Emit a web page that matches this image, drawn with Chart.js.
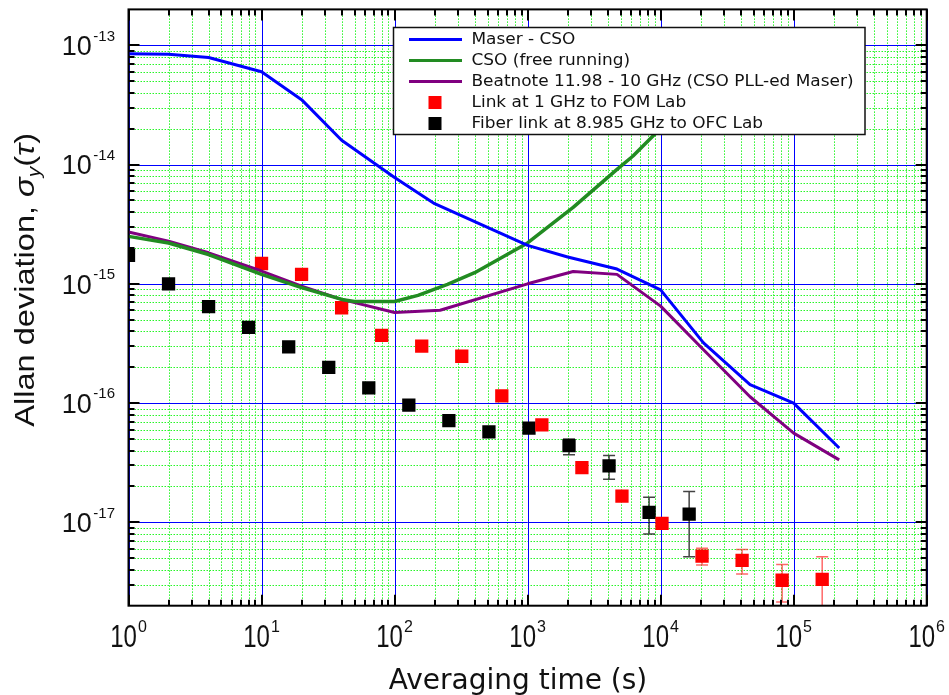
<!DOCTYPE html>
<html><head><meta charset="utf-8">
<script src="https://cdn.jsdelivr.net/npm/chart.js@4"></script>
<style>html,body{margin:0;padding:0;background:#fff;}canvas{display:block;}</style>
</head><body>
<canvas id="c" width="949" height="695"></canvas>
<script>
// ---- data ----
const seriesLabels = ['Maser - CSO','CSO (free running)','Beatnote 11.98 - 10 GHz (CSO PLL-ed Maser)','Link at 1 GHz to FOM Lab','Fiber link at 8.985 GHz to OFC Lab'];
const xTickExponents = [0,1,2,3,4,5,6];
const yTickExponents = [-17,-16,-15,-14,-13];
const minorMultipliers = [2,3,4,5,6,7,8,9];
const xTitle = 'Averaging time (s)';

const maserTau = [1,2,4,10,20,40,100,200,1000,2000,4700,10000,21000,47000,100000,220000];
const maserDev = [8.5e-14,8.4e-14,7.9e-14,6.0e-14,3.5e-14,1.6e-14,7.8e-15,4.7e-15,2.1e-15,1.68e-15,1.33e-15,8.9e-16,3.2e-16,1.43e-16,1.0e-16,4.2e-17];

const csoTau = [1,2,4,10,20,40,50,87,100,150,250,400,1000,2200,4700,6200,9300,15000];
const csoDev = [2.5e-15,2.2e-15,1.76e-15,1.2e-15,9.3e-16,7.4e-16,7.1e-16,7.1e-16,7.1e-16,8.0e-16,9.9e-16,1.24e-15,2.2e-15,4.37e-15,9.1e-15,1.18e-14,1.86e-14,3.0e-14];

const beatTau = [1,2,4,10,20,40,100,220,1000,2200,4700,10000,21000,47000,100000,220000];
const beatDev = [2.72e-15,2.28e-15,1.82e-15,1.28e-15,9.55e-16,7.4e-16,5.75e-16,6.0e-16,1.0e-15,1.27e-15,1.2e-15,6.5e-16,2.8e-16,1.13e-16,5.6e-17,3.34e-17];

const fomTau = [10,20,40,80,160,320,640,1280,2560,5120,10240,20480,40960,81920,163840];
const fomDev = [1.48e-15,1.2e-15,6.3e-16,3.7e-16,3.0e-16,2.47e-16,1.15e-16,6.57e-17,2.88e-17,1.66e-17,9.8e-18,5.2e-18,4.8e-18,3.27e-18,3.32e-18];
const fomErrLow  = [null,null,null,null,null,null,null,null,null,null,null,4.38e-18,3.68e-18,2.15e-18,1.0e-18];
const fomErrHigh = [null,null,null,null,null,null,null,null,null,null,null,6.05e-18,5.93e-18,4.44e-18,5.14e-18];

const ofcTau = [1,2,4,8,16,32,64,128,256,512,1024,2048,4096,8192,16384];
const ofcDev = [1.73e-15,1.0e-15,6.44e-16,4.32e-16,2.96e-16,1.99e-16,1.34e-16,9.6e-17,7.14e-17,5.74e-17,6.16e-17,4.4e-17,2.97e-17,1.21e-17,1.17e-17];
const ofcErrLow  = [null,null,null,null,null,null,null,null,null,null,null,3.68e-17,2.3e-17,7.97e-18,5.14e-18];
const ofcErrHigh = [null,null,null,null,null,null,null,null,null,null,null,5.01e-17,3.63e-17,1.62e-17,1.81e-17];

// ---- helpers ----
const pts = (xs, ys) => xs.map((v, i) => ({x: v, y: ys[i]}));
const SANS = '"Liberation Sans", Arial, sans-serif';
const DEJA = '"DejaVu Sans", Verdana, sans-serif';

const gridPlugin = {
  id: 'customGrid',
  beforeDatasetsDraw(chart) {
    const {ctx, chartArea: a, scales: {x, y}} = chart;
    ctx.save();
    ctx.lineWidth = 1;
    ctx.strokeStyle = 'rgb(40,245,40)';
    ctx.setLineDash([1.5, 1.5]);
    ctx.beginPath();
    for (let k = 0; k < xTickExponents.length - 1; k++) {
      minorMultipliers.forEach(m => {
        const px = Math.round(x.getPixelForValue(m * Math.pow(10, xTickExponents[k]))) + 0.5;
        ctx.moveTo(px, a.top); ctx.lineTo(px, a.bottom);
      });
    }
    for (let e = yTickExponents[0] - 1; e <= yTickExponents[yTickExponents.length - 1]; e++) {
      minorMultipliers.forEach(m => {
        const v = m * Math.pow(10, e);
        if (v <= y.min * 1.0001 || v >= y.max * 0.9999) return;
        const py = Math.round(y.getPixelForValue(v)) + 0.5;
        ctx.moveTo(a.left, py); ctx.lineTo(a.right, py);
      });
    }
    ctx.stroke();
    ctx.setLineDash([]);
    ctx.strokeStyle = '#0000ff';
    ctx.beginPath();
    xTickExponents.forEach(e => {
      const px = Math.round(x.getPixelForValue(Math.pow(10, e))) + 0.5;
      ctx.moveTo(px, a.top); ctx.lineTo(px, a.bottom);
    });
    yTickExponents.forEach(e => {
      const py = Math.round(y.getPixelForValue(Math.pow(10, e))) + 0.5;
      ctx.moveTo(a.left, py); ctx.lineTo(a.right, py);
    });
    ctx.stroke();
    ctx.restore();
  }
};

const errorBarPlugin = {
  id: 'errorBars',
  beforeDatasetsDraw(chart) {
    const {ctx, chartArea: a, scales: {x, y}} = chart;
    ctx.save();
    ctx.beginPath(); ctx.rect(a.left, a.top, a.right - a.left, a.bottom - a.top); ctx.clip();
    const sets = [
      [fomTau, fomErrLow, fomErrHigh, 'rgba(255,40,40,0.7)'],
      [ofcTau, ofcErrLow, ofcErrHigh, 'rgba(20,20,20,0.8)']
    ];
    sets.forEach(([tau, lo, hi, col]) => {
      ctx.strokeStyle = col; ctx.lineWidth = 1.5;
      tau.forEach((t, i) => {
        if (lo[i] == null || hi[i] == null) return;
        const px = x.getPixelForValue(t);
        const p1 = y.getPixelForValue(lo[i]);
        const p2 = y.getPixelForValue(hi[i]);
        ctx.beginPath();
        ctx.moveTo(px, p1); ctx.lineTo(px, p2);
        ctx.moveTo(px - 6, p1); ctx.lineTo(px + 6, p1);
        ctx.moveTo(px - 6, p2); ctx.lineTo(px + 6, p2);
        ctx.stroke();
      });
    });
    ctx.restore();
  }
};

const framePlugin = {
  id: 'frame',
  afterDatasetsDraw(chart) {
    const {ctx, chartArea: a, scales: {x, y}} = chart;
    ctx.save();
    ctx.strokeStyle = '#000'; ctx.lineWidth = 2;
    ctx.strokeRect(a.left, a.top, a.right - a.left, a.bottom - a.top);
    ctx.beginPath();
    const tickX = (v, len) => {
      const px = Math.round(x.getPixelForValue(v));
      ctx.moveTo(px, a.bottom); ctx.lineTo(px, a.bottom - len);
      ctx.moveTo(px, a.top); ctx.lineTo(px, a.top + len);
    };
    const tickY = (v, len) => {
      const py = Math.round(y.getPixelForValue(v));
      ctx.moveTo(a.left, py); ctx.lineTo(a.left + len, py);
      ctx.moveTo(a.right, py); ctx.lineTo(a.right - len, py);
    };
    xTickExponents.forEach(e => tickX(Math.pow(10, e), 11));
    for (let k = 0; k < xTickExponents.length - 1; k++)
      minorMultipliers.forEach(m => tickX(m * Math.pow(10, xTickExponents[k]), 6));
    yTickExponents.forEach(e => tickY(Math.pow(10, e), 11));
    for (let e = yTickExponents[0] - 1; e <= yTickExponents[yTickExponents.length - 1]; e++)
      minorMultipliers.forEach(m => {
        const v = m * Math.pow(10, e);
        if (v <= y.min * 1.0001 || v >= y.max * 0.9999) return;
        tickY(v, 6);
      });
    ctx.stroke();
    ctx.restore();
  }
};

const legendPlugin = {
  id: 'boxLegend',
  afterDatasetsDraw(chart) {
    const {ctx} = chart;
    const L = 393.5, T = 27.5, R = 865, B = 134.5;
    ctx.save();
    ctx.fillStyle = '#fff';
    ctx.fillRect(L, T, R - L, B - T);
    ctx.strokeStyle = '#111'; ctx.lineWidth = 1.5;
    ctx.strokeRect(L, T, R - L, B - T);
    ctx.font = '15px ' + DEJA;
    let longest = 0;
    chart.data.datasets.forEach(ds => { longest = Math.max(longest, ctx.measureText(ds.label).width); });
    const sx = 382 / longest;
    chart.data.datasets.forEach((ds, i) => {
      const ry = 39.5 + i * 21;
      if (ds.showLine) {
        ctx.strokeStyle = ds.borderColor; ctx.lineWidth = 3;
        ctx.beginPath(); ctx.moveTo(409, ry); ctx.lineTo(462, ry); ctx.stroke();
      } else {
        ctx.fillStyle = ds.backgroundColor;
        ctx.fillRect(435 - 6.5, ry - 6.5, 13, 13);
      }
      ctx.save();
      ctx.translate(471.5, ry + 0.5);
      ctx.scale(sx, 1);
      ctx.fillStyle = '#111';
      ctx.font = '15px ' + DEJA;
      ctx.textAlign = 'left'; ctx.textBaseline = 'middle';
      ctx.fillText(ds.label, 0, 0);
      ctx.restore();
    });
    ctx.restore();
  }
};

const labelPlugin = {
  id: 'labels',
  afterDraw(chart) {
    const {ctx, chartArea: a, scales: {x, y}} = chart;
    ctx.save();
    ctx.fillStyle = '#111';
    ctx.textBaseline = 'alphabetic';
    // x tick labels
    xTickExponents.forEach(e => {
      const px = x.getPixelForValue(Math.pow(10, e));
      ctx.font = '24px ' + SANS; const w1 = ctx.measureText('10').width;
      ctx.font = '16px ' + SANS; const w2 = ctx.measureText(String(e)).width;
      const left = px - (w1 + 1 + w2) / 2;
      ctx.save(); ctx.translate(left, a.bottom + 41); ctx.scale(1, 1.28);
      ctx.font = '24px ' + SANS; ctx.textAlign = 'left'; ctx.fillText('10', 0, 0);
      ctx.restore();
      ctx.font = '16px ' + SANS; ctx.textAlign = 'left';
      ctx.fillText(String(e), left + w1 + 1, a.bottom + 26);
    });
    // y tick labels
    yTickExponents.forEach(e => {
      const py = y.getPixelForValue(Math.pow(10, e));
      const rx = a.left - 13.5;
      ctx.textAlign = 'right';
      ctx.font = '15px ' + SANS; ctx.fillText(String(e), rx, py - 4.6);
      const w2 = ctx.measureText(String(e)).width;
      ctx.font = '27px ' + SANS; ctx.fillText('10', rx - w2 - 1.6, py + 9.7);
    });
    // x title
    ctx.font = '28px ' + DEJA; ctx.textAlign = 'center';
    ctx.fillText(xTitle, 518, 689);
    // y title: "Allan deviation, σ_y(τ)"
    const segs = [
      {t: 'Allan deviation, ', f: '28px ' + SANS, dy: 0},
      {t: 'σ', f: 'italic 28px ' + SANS, dy: 0},
      {t: 'y', f: 'italic 18px ' + SANS, dy: 6},
      {t: '(', f: '28px ' + SANS, dy: 0},
      {t: 'τ', f: 'italic 28px ' + SANS, dy: 0},
      {t: ')', f: '28px ' + SANS, dy: 0}
    ];
    let total = 0;
    segs.forEach(s => { ctx.font = s.f; s.w = ctx.measureText(s.t).width; total += s.w; });
    const span = 426.7 - 133;
    ctx.save();
    ctx.translate(33.5, 426.7);
    ctx.rotate(-Math.PI / 2);
    ctx.scale(span / total, 1);
    ctx.textAlign = 'left';
    let cx = 0;
    segs.forEach(s => { ctx.font = s.f; ctx.fillText(s.t, cx, s.dy); cx += s.w; });
    ctx.restore();
    ctx.restore();
  }
};

new Chart(document.getElementById('c'), {
  type: 'scatter',
  data: {
    datasets: [
      {label: seriesLabels[0], data: pts(maserTau, maserDev), showLine: true, borderColor: '#0000ff', backgroundColor: '#0000ff', borderWidth: 3, pointRadius: 0, clip: 0, borderJoinStyle: 'round'},
      {label: seriesLabels[1], data: pts(csoTau, csoDev), showLine: true, borderColor: '#228b22', backgroundColor: '#228b22', borderWidth: 3.5, pointRadius: 0, clip: 0, borderJoinStyle: 'round'},
      {label: seriesLabels[2], data: pts(beatTau, beatDev), showLine: true, borderColor: '#800080', backgroundColor: '#800080', borderWidth: 3, pointRadius: 0, clip: 0, borderJoinStyle: 'round'},
      {label: seriesLabels[3], data: pts(fomTau, fomDev), showLine: false, pointStyle: 'rect', pointRadius: 9.4, borderWidth: 0, backgroundColor: '#ff0000', borderColor: '#ff0000', clip: 0},
      {label: seriesLabels[4], data: pts(ofcTau, ofcDev), showLine: false, pointStyle: 'rect', pointRadius: 9.4, borderWidth: 0, backgroundColor: '#000000', borderColor: '#000000', clip: 0}
    ]
  },
  options: {
    responsive: false,
    animation: false,
    devicePixelRatio: 1,
    layout: {padding: {left: 128.5, right: 22.3, top: 9, bottom: 89.3}},
    scales: {
      x: {type: 'logarithmic', min: 1, max: 1e6, display: false},
      y: {type: 'logarithmic', min: 2e-18, max: 2e-13, display: false}
    },
    plugins: {legend: {display: false}, tooltip: {enabled: false}}
  },
  plugins: [gridPlugin, errorBarPlugin, framePlugin, legendPlugin, labelPlugin]
});
</script>
</body></html>
